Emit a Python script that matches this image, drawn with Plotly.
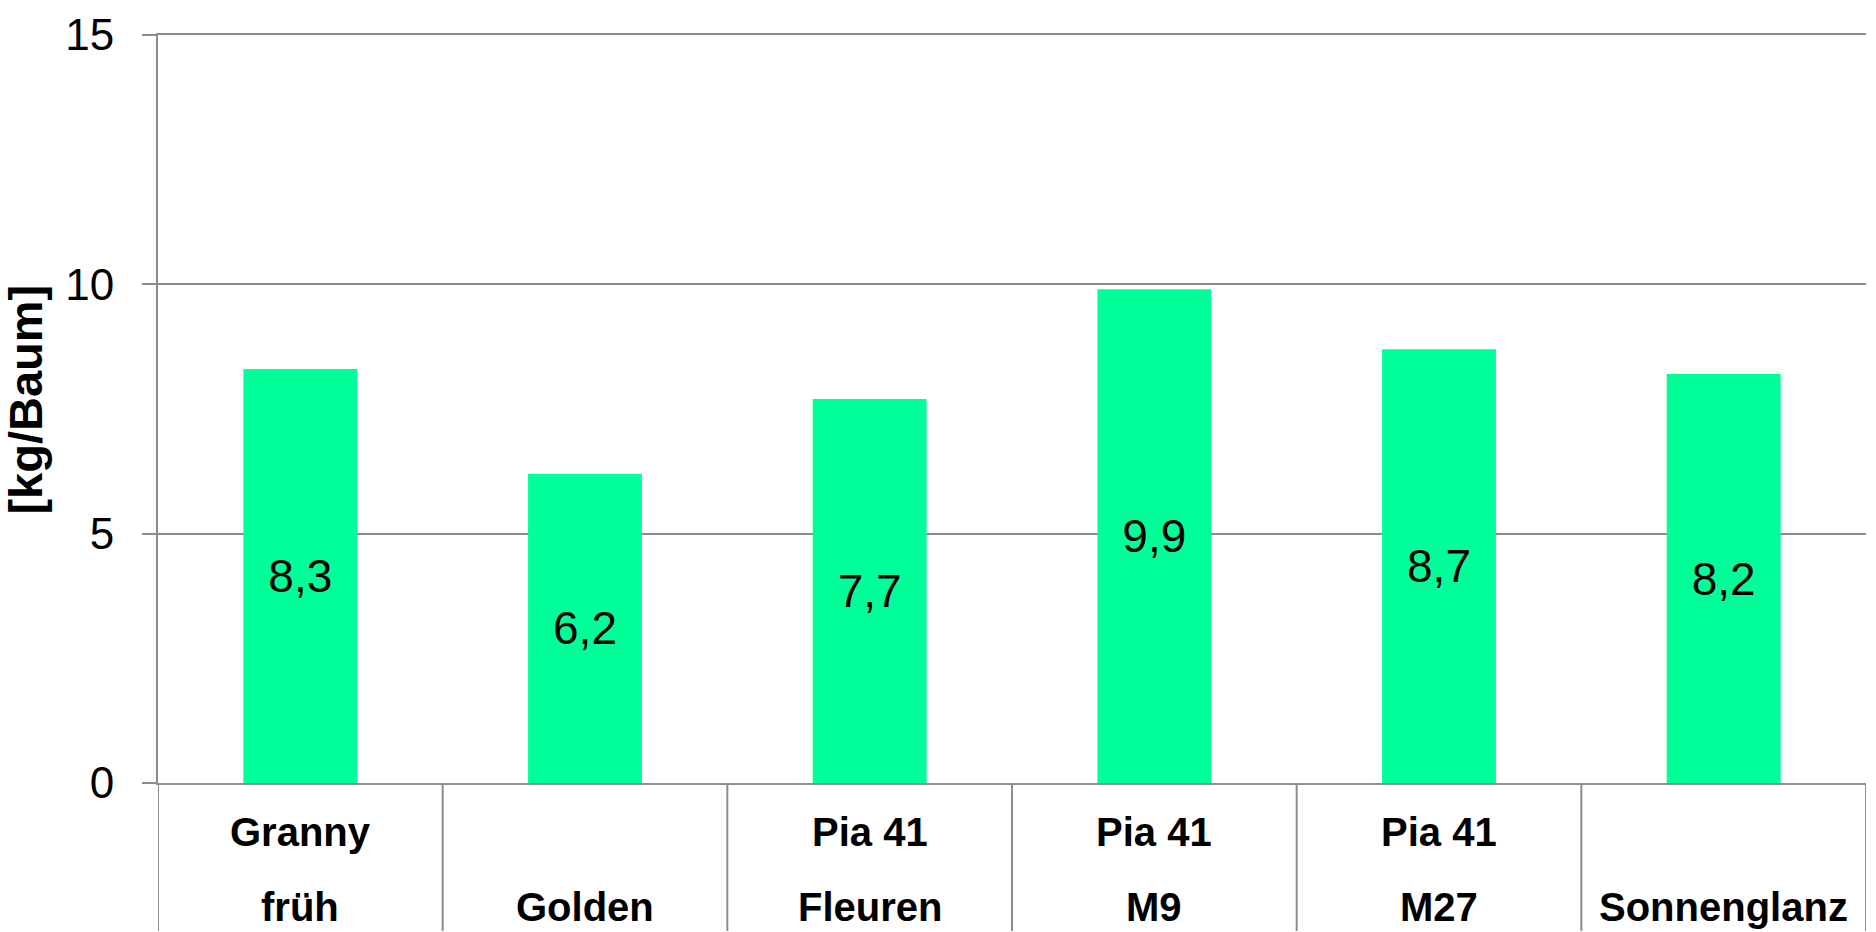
import plotly.graph_objects as go

# Data
categories = ["Granny früh", "Golden", "Pia 41 Fleuren", "Pia 41 M9", "Pia 41 M27", "Sonnenglanz"]
label_line1 = ["Granny", "", "Pia 41", "Pia 41", "Pia 41", ""]
label_line2 = ["früh", "Golden", "Fleuren", "M9", "M27", "Sonnenglanz"]
values = [8.3, 6.2, 7.7, 9.9, 8.7, 8.2]
y_ticks = [0, 5, 10, 15]
y_title = "[kg/Baum]"

FONT = "Arial, 'Liberation Sans', sans-serif"
GRID = "#8c8c8c"
W, H = 1876, 932
L, R, T, B = 158, 10, 30, 149
plot_h = H - T - B

fig = go.Figure()
fig.add_trace(go.Bar(
    x=list(range(len(categories))),
    y=values,
    width=0.4,
    marker=dict(color="#00FF99", line=dict(width=0)),
    text=[f"{v:.1f}".replace(".", ",") for v in values],
    textposition="inside",
    insidetextanchor="middle",
    textangle=0,
    textfont=dict(family=FONT, size=46, color="black"),
    hoverinfo="skip",
))

shapes = []
for i in range(len(categories) + 1):
    shapes.append(dict(type="line", xref="x", yref="paper",
                       x0=i - 0.5, x1=i - 0.5, y0=0, y1=-B / plot_h,
                       line=dict(color=GRID, width=2)))

annotations = []
for i in range(len(categories)):
    if label_line1[i]:
        annotations.append(dict(x=i, xref="x", y=0, yref="paper", yanchor="middle",
                                yshift=-49, text=f"<b>{label_line1[i]}</b>", showarrow=False,
                                font=dict(family=FONT, size=40, color="black")))
    annotations.append(dict(x=i, xref="x", y=0, yref="paper", yanchor="middle",
                            yshift=-124, text=f"<b>{label_line2[i]}</b>", showarrow=False,
                            font=dict(family=FONT, size=40, color="black")))

annotations.append(dict(x=0, xref="paper", xshift=-132, y=(H - B - 397) / plot_h, yref="paper",
                        xanchor="center", yanchor="middle", textangle=-90,
                        text=f"<b>{y_title}</b>", showarrow=False,
                        font=dict(family=FONT, size=47, color="black")))

fig.update_layout(
    width=W, height=H,
    margin=dict(l=L, r=R, t=T, b=B, pad=0),
    paper_bgcolor="white", plot_bgcolor="white",
    showlegend=False,
    shapes=shapes,
    annotations=annotations,
    xaxis=dict(range=[-0.5, len(categories) - 0.5], showticklabels=False, showgrid=False,
               zeroline=False, showline=True, mirror=True, linecolor=GRID, linewidth=2,
               ticks=""),
    yaxis=dict(range=[0, 15], tickvals=y_ticks, ticktext=[str(t) for t in y_ticks],
               showgrid=True, gridcolor=GRID, gridwidth=2, zeroline=False,
               showline=True, linecolor=GRID, linewidth=2,
               ticks="outside", ticklen=14, tickcolor=GRID, tickwidth=2,
               ticklabelstandoff=19,
               tickfont=dict(family=FONT, size=44, color="black")),
)

fig.write_html("out.html", config={"displayModeBar": False},
               post_script="document.body.style.margin='0';document.body.style.overflow='hidden';")
